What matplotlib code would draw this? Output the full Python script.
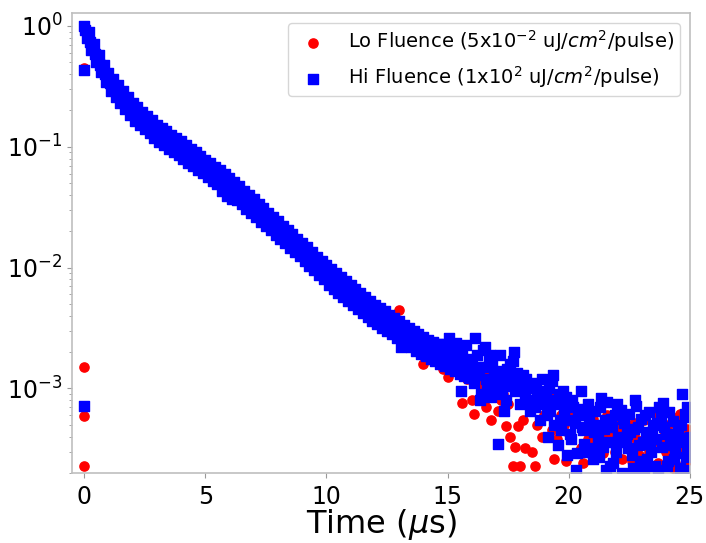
import numpy as np
import matplotlib
matplotlib.use('Agg')
import matplotlib.pyplot as plt

# time base of the decay traces (us), 0.1 us sampling
band_time = np.round(np.arange(0, 16.05, 0.1), 2)
mid_time = np.round(np.arange(0.05, 16.0, 0.1), 2)
hi_tail_time = np.round(np.arange(16.1, 25.05, 0.1), 2)
lo_band_time = np.round(np.arange(0, 16.05, 0.2), 2)

# Hi fluence, normalised PL
hi_band = [1.00, 0.79, 0.89, 0.63, 0.71, 0.50, 0.575, 0.417, 0.479, 0.347,
           0.412, 0.288, 0.367, 0.257, 0.327, 0.229, 0.292, 0.204, 0.26, 0.182,
           0.232, 0.165, 0.213, 0.152, 0.196, 0.14, 0.181, 0.129, 0.166, 0.118,
           0.153, 0.11, 0.1435, 0.103, 0.1345, 0.0966, 0.126, 0.0906, 0.118, 0.0849,
           0.111, 0.0794, 0.1035, 0.0741, 0.0966, 0.0692, 0.0902, 0.0646, 0.0841, 0.0603,
           0.0785, 0.0562, 0.0733, 0.0525, 0.0684, 0.049, 0.0638, 0.0432, 0.0596, 0.0394,
           0.0556, 0.0373, 0.0512, 0.0364, 0.0471, 0.0335, 0.0434, 0.0308, 0.0399, 0.0284,
           0.0367, 0.0261, 0.0338, 0.024, 0.0311, 0.0221, 0.0286, 0.0204, 0.0264, 0.0188,
           0.0243, 0.0173, 0.0223, 0.0159, 0.0206, 0.0146, 0.0189, 0.0135, 0.0174, 0.0124,
           0.016, 0.0114, 0.0147, 0.0104, 0.0135, 0.00955, 0.0123, 0.00875, 0.0113, 0.00802,
           0.0106, 0.00721, 0.0098, 0.00667, 0.00906, 0.00617, 0.00838, 0.0057, 0.00774, 0.00527,
           0.00716, 0.00489, 0.00665, 0.00454, 0.00618, 0.00422, 0.00574, 0.00392, 0.00533, 0.00364,
           0.00495, 0.0034, 0.00465, 0.00318, 0.00436, 0.00299, 0.00408, 0.0028, 0.00383, 0.00262,
           0.00359, 0.00222, 0.00338, 0.00232, 0.00318, 0.00219, 0.0030, 0.00206, 0.00282, 0.00194,
           0.00266, 0.00184, 0.00254, 0.00176, 0.00243, 0.00168, 0.00232, 0.0016, 0.00234, 0.00153,
           0.00211, 0.00146, 0.00202, 0.0014, 0.00193, 0.00133, 0.00184, 0.00127, 0.00176, 0.00122,
           0.00168]
hi_mid = [0.93, 0.85, 0.74, 0.68, 0.59, 0.55, 0.48, 0.45, 0.40, 0.375,
          0.34, 0.33, 0.30, 0.295, 0.27, 0.262, 0.24, 0.233, 0.215, 0.208,
          0.193, 0.19, 0.177, 0.175, 0.163, 0.161, 0.15, 0.148, 0.138, 0.136,
          0.128, 0.127, 0.12, 0.119, 0.112, 0.112, 0.105, 0.105, 0.098, 0.098,
          0.092, 0.092, 0.086, 0.086, 0.080, 0.080, 0.075, 0.074, 0.070, 0.069,
          0.065, 0.065, 0.061, 0.060, 0.057, 0.056, 0.053, 0.052, 0.049, 0.049,
          0.046, 0.045, 0.0425, 0.0415, 0.039, 0.0382, 0.036, 0.0352, 0.033, 0.0324,
          0.0305, 0.0298, 0.028, 0.0275, 0.0258, 0.0252, 0.0238, 0.0232, 0.0219, 0.0214,
          0.0202, 0.0197, 0.0185, 0.0181, 0.017, 0.0166, 0.0157, 0.0153, 0.0145, 0.0141,
          0.0133, 0.013, 0.0122, 0.0119, 0.0112, 0.0109, 0.0103, 0.0100, 0.0094, 0.0091,
          0.0086, 0.0084, 0.0080, 0.0078, 0.0074, 0.0072, 0.0068, 0.0067, 0.0063, 0.0061,
          0.0058, 0.0057, 0.0054, 0.0053, 0.0050, 0.0049, 0.0047, 0.0046, 0.0043, 0.0042,
          0.0040, 0.0040, 0.0038, 0.0037, 0.0035, 0.0035, 0.0033, 0.0033, 0.0031, 0.0031,
          0.0029, 0.0029, 0.0027, 0.0027, 0.0026, 0.0026, 0.0024, 0.0024, 0.0023, 0.0023,
          0.0022, 0.0022, 0.0021, 0.0021, 0.0020, 0.0020, 0.0019, 0.0019, 0.0018, 0.0018,
          0.00175, 0.0017, 0.00168, 0.00163, 0.0016, 0.00156, 0.00152, 0.00149, 0.00145, 0.00142]
hi_tail = [1.1e-3, 1.9e-3, 1.3e-3, 9.0e-4, 1.5e-3, 1.2e-3, 1.7e-3, 8.5e-4, 1.3e-3, 1.0e-3,
           3.5e-4, 1.4e-3, 1.1e-3, 8.0e-4, 1.2e-3, 1.6e-3, 1.7e-3, 9.5e-4, 1.2e-3, 7.5e-4,
           1.3e-3, 8.5e-4, 1.0e-3, 6.5e-4, 1.1e-3, 7.0e-4, 9.0e-4, 5.5e-4, 1.2e-3, 8.0e-4,
           6.0e-4, 1.0e-3, 1.15e-3, 5.0e-4, 7.5e-4, 9.0e-4, 4.5e-4, 6.5e-4, 8.5e-4, 5.5e-4,
           3.8e-4, 7.0e-4, 2.1e-4, 6.0e-4, 9.6e-4, 4.5e-4, 3.0e-4, 7.5e-4, 5.0e-4, 2.6e-4,
           6.5e-4, 4.0e-4, 7.0e-4, 3.3e-4, 5.5e-4, 7.8e-4, 2.3e-4, 4.8e-4, 6.0e-4, 7.4e-4,
           3.6e-4, 2.0e-4, 5.2e-4, 4.2e-4, 6.2e-4, 2.8e-4, 4.6e-4, 7.1e-4, 3.4e-4, 5.6e-4,
           2.2e-4, 4.4e-4, 6.4e-4, 3.0e-4, 5.0e-4, 3.8e-4, 2.1e-4, 5.8e-4, 7.6e-4, 4.2e-4,
           2.5e-4, 3.4e-4, 5.4e-4, 2.9e-4, 4.6e-4, 2.2e-4, 9.0e-4, 6.2e-4, 3.2e-4, 4.0e-4]
hi_extra_time = [16.25, 16.45, 16.65, 16.85, 17.05, 17.25, 17.45, 17.65, 17.85, 18.05,
                 18.25, 18.45, 18.65, 18.85, 19.05, 19.25, 19.45, 19.65, 19.85, 20.05,
                 20.25, 20.45, 20.65, 20.85, 21.05, 21.25, 21.45, 21.65, 21.85, 22.05,
                 22.25, 22.45, 22.65, 22.85, 23.05, 23.25, 23.45, 23.65, 23.85, 24.05,
                 24.25, 24.45, 24.65, 24.85, 24.95,
                 15.05, 15.35, 15.55, 15.75, 16.15, 16.35, 16.55, 16.75, 17.15, 17.35,
                 17.55, 17.75, 19.15, 19.35, 19.55, 19.75, 19.95, 20.15, 20.35, 20.55,
                 20.75, 20.95, 21.15, 21.35, 21.55, 21.75, 21.95, 22.15, 22.35, 22.55,
                 22.75, 22.95, 23.15, 23.35, 23.55, 23.75, 23.95, 24.15, 24.35, 24.55,
                 24.75, 24.9]
hi_extra = [1.5e-3, 2.1e-3, 1.0e-3, 1.6e-3, 1.25e-3, 9.0e-4, 1.45e-3, 1.05e-3, 1.35e-3, 1.0e-3,
            1.2e-3, 8.0e-4, 1.05e-3, 7.5e-4, 9.5e-4, 6.5e-4, 8.0e-4, 5.5e-4, 7.0e-4, 4.2e-4,
            5.2e-4, 6.8e-4, 3.5e-4, 5.8e-4, 4.4e-4, 2.7e-4, 4.6e-4, 3.6e-4, 2.4e-4, 4.0e-4,
            5.6e-4, 3.2e-4, 2.2e-4, 4.8e-4, 3.6e-4, 2.6e-4, 4.2e-4, 5.2e-4, 3.3e-4, 2.3e-4,
            4.2e-4, 3.6e-4, 5.0e-4, 2.7e-4, 5.8e-4,
            2.6e-3, 2.4e-3, 9.5e-4, 2.3e-3, 2.6e-3, 8.0e-4, 2.2e-3, 1.9e-3, 1.9e-3, 6.5e-4,
            1.3e-3, 2.0e-3, 4.0e-4, 1.3e-3, 3.4e-4, 9.5e-4, 2.8e-4, 8.0e-4, 2.9e-4, 4.8e-4,
            6.2e-4, 3.2e-4, 5.0e-4, 8.4e-4, 2.1e-4, 5.6e-4, 3.0e-4, 6.6e-4, 3.8e-4, 4.4e-4,
            8.0e-4, 2.5e-4, 6.0e-4, 3.5e-4, 2.3e-4, 7.0e-4, 4.8e-4, 6.4e-4, 2.6e-4, 3.9e-4,
            2.1e-4, 7.0e-4]
hi_t0 = [0.43, 7.1e-4]

# Lo fluence
lo_band = [0.96, 0.86, 0.70, 0.53, 0.42, 0.35, 0.30, 0.27, 0.235, 0.21,
           0.19, 0.172, 0.158, 0.146, 0.134, 0.124, 0.116, 0.108, 0.101, 0.094,
           0.089, 0.083, 0.078, 0.073, 0.068, 0.064, 0.060, 0.055, 0.051, 0.047,
           0.044, 0.041, 0.038, 0.036, 0.033, 0.031, 0.028, 0.026, 0.024, 0.0225,
           0.021, 0.0185, 0.0178, 0.0158, 0.0148, 0.0135, 0.0124, 0.0113, 0.0104, 0.0096,
           0.0091, 0.0086, 0.0080, 0.0071, 0.0066, 0.0061, 0.0056, 0.0052, 0.0047, 0.0045,
           0.0040, 0.0038, 0.0035, 0.0033, 0.0031, 0.0045, 0.0030, 0.0027, 0.0025, 0.0023,
           0.0016, 0.0021, 0.0020, 0.0018, 0.00144, 0.00124, 0.0016, 0.0014, 0.00076, 0.0012,
           0.00081]
lo_tail_time = [16.1, 16.3, 16.5, 16.7, 16.8, 17.0, 17.2, 17.4, 17.6, 17.7,
                17.8, 17.9, 18.0, 18.2, 18.4, 18.5, 18.6, 18.8, 19.0, 19.2,
                19.4, 19.6, 19.8, 19.9, 20.1, 20.4, 20.5, 20.7, 20.9, 21.1,
                21.2, 21.4, 21.5, 21.7, 21.8, 22.0, 22.2, 22.3, 22.5, 22.7,
                22.9, 23.0, 23.2, 23.5, 23.7, 23.8, 24.0, 24.1, 24.3, 24.4,
                24.6, 24.7, 24.8, 24.9,
                16.2, 16.4, 16.6, 16.9, 17.1, 17.3, 17.5, 18.1, 18.3, 18.7,
                18.9, 19.1, 19.3, 19.5, 19.7, 20.0, 20.2, 20.6, 20.8, 21.0,
                21.3, 21.6, 21.9, 22.1, 22.4, 22.6, 22.8, 23.1, 23.3, 23.4,
                23.6, 23.9, 24.2, 24.5, 25.0]
lo_tail = [6.1e-4, 1.2e-3, 9.5e-4, 1.4e-3, 5.5e-4, 1.0e-3, 8.0e-4, 4.9e-4, 4.0e-4, 2.3e-4,
           3.3e-4, 4.9e-4, 2.3e-4, 3.2e-4, 7.0e-4, 3.0e-4, 2.3e-4, 9.0e-4, 6.0e-4, 9.3e-4,
           2.6e-4, 7.6e-4, 5.0e-4, 2.5e-4, 6.5e-4, 3.0e-4, 3.2e-4, 4.5e-4, 6.7e-4, 3.6e-4,
           4.8e-4, 2.9e-4, 3.8e-4, 2.3e-4, 4.4e-4, 5.5e-4, 2.6e-4, 4.4e-4, 3.2e-4, 5.2e-4,
           2.8e-4, 2.1e-4, 4.0e-4, 3.6e-4, 2.4e-4, 5.2e-4, 3.0e-4, 5.0e-4, 2.2e-4, 4.0e-4,
           6.2e-4, 3.0e-4, 2.4e-4, 4.6e-4,
           8.0e-4, 1.0e-3, 7.0e-4, 1.1e-3, 6.5e-4, 9.0e-4, 7.5e-4, 5.5e-4, 8.0e-4, 5.0e-4,
           4.0e-4, 7.2e-4, 4.5e-4, 3.8e-4, 6.0e-4, 4.2e-4, 5.5e-4, 2.4e-4, 3.8e-4, 5.6e-4,
           4.2e-4, 6.0e-4, 3.0e-4, 4.6e-4, 6.2e-4, 2.5e-4, 3.8e-4, 5.5e-4, 3.0e-4, 4.4e-4,
           6.3e-4, 4.0e-4, 3.4e-4, 5.8e-4, 2.6e-4]
lo_t0 = [0.45, 1.5e-3, 5.9e-4, 2.3e-4]

lo_t = np.concatenate([lo_band_time, lo_tail_time, np.zeros(len(lo_t0))])
lo_y = np.concatenate([lo_band, lo_tail, lo_t0])
hi_t = np.concatenate([band_time, mid_time, hi_tail_time, hi_extra_time,
                       np.zeros(len(hi_t0))])
hi_y = np.concatenate([hi_band, hi_mid, hi_tail, hi_extra, hi_t0])

fig = plt.figure(figsize=(7.06, 5.43), dpi=100)
ax = fig.add_axes([0.102, 0.129, 0.875, 0.847])

ax.scatter(lo_t, lo_y, s=44, marker='o', color='red',
           label='Lo Fluence (5x10$^{-2}$ uJ/$cm^2$/pulse)')
ax.scatter(hi_t, hi_y, s=44, marker='s', color='blue',
           label='Hi Fluence (1x10$^{2}$ uJ/$cm^2$/pulse)')

ax.set_yscale('log')
ax.set_xlim(-0.5, 25)
ax.set_ylim(2e-4, 1.28)
ax.set_xticks([0, 5, 10, 15, 20, 25])
ax.set_xlabel('Time ($\\mu$s)', fontsize=23, labelpad=-1)
ax.tick_params(labelsize=17, color='0.6')
ax.tick_params(axis='x', pad=5)
ax.tick_params(which='minor', color='0.6')
for sp in ax.spines.values():
    sp.set_color('0.75')
    sp.set_linewidth(1.2)

ax.legend(loc='upper right', fontsize=14, scatterpoints=1, borderpad=0.3)

fig.savefig('out.png', dpi=100)
